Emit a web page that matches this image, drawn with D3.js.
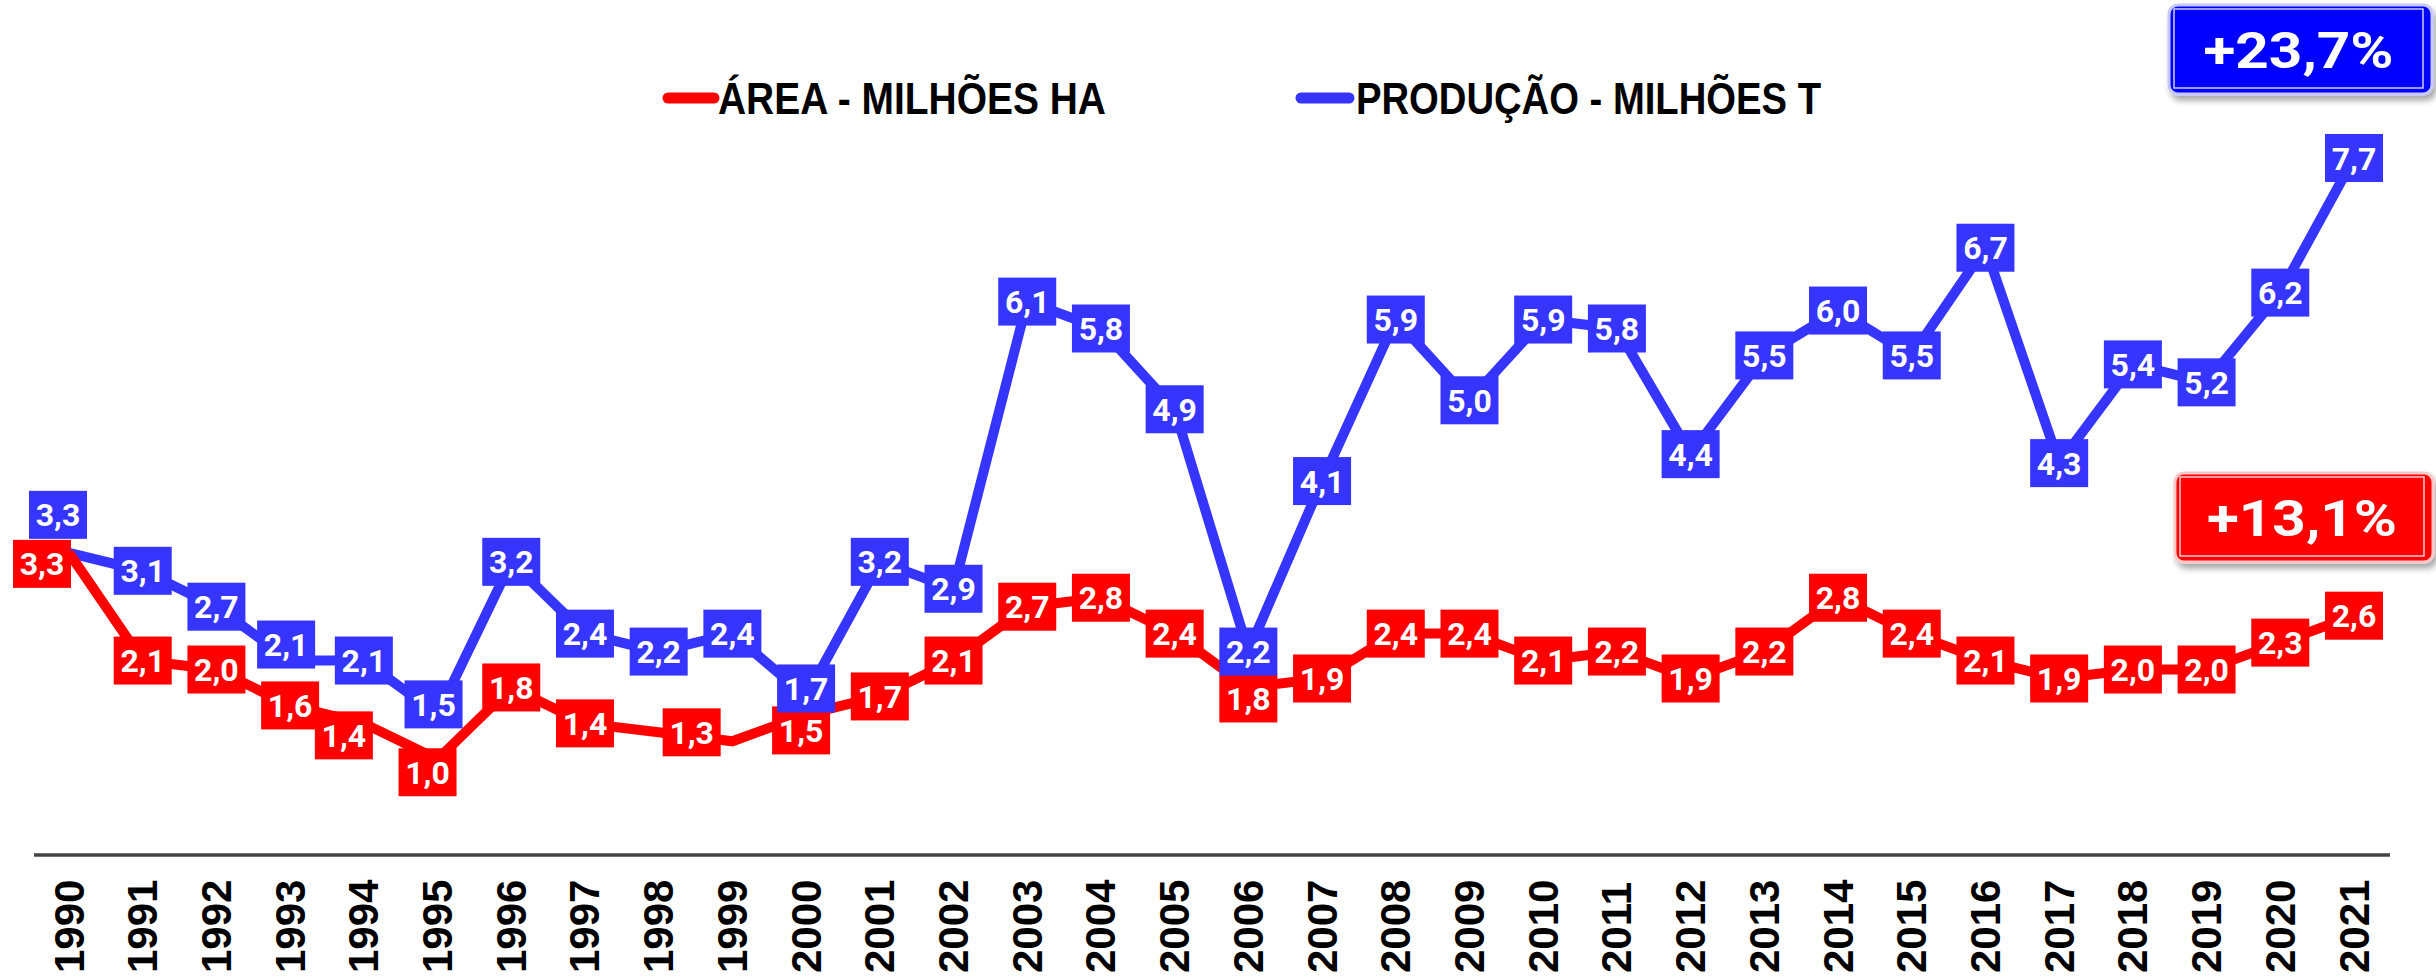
<!DOCTYPE html>
<html>
<head>
<meta charset="utf-8">
<script src="https://cdn.jsdelivr.net/npm/d3@7"></script>
<style>
  body { margin: 0; background: #fff; }
  svg { display: block; }
</style>
</head>
<body>
<svg id="chart"></svg>
<script>
// data
var years = d3.range(1990, 2022);
var producao = [3.3, 3.1, 2.7, 2.1, 2.1, 1.5, 3.2, 2.4, 2.2, 2.4, 1.7, 3.2, 2.9, 6.1, 5.8, 4.9,
                2.2, 4.1, 5.9, 5.0, 5.9, 5.8, 4.4, 5.5, 6.0, 5.5, 6.7, 4.3, 5.4, 5.2, 6.2, 7.7];
var area = [3.3, 2.1, 2.0, 1.6, 1.4, 1.0, 1.8, 1.4, 1.3, 1.2, 1.5, 1.7, 2.1, 2.7, 2.8, 2.4,
            1.8, 1.9, 2.4, 2.4, 2.1, 2.2, 1.9, 2.2, 2.8, 2.4, 2.1, 1.9, 2.0, 2.0, 2.3, 2.6];
var legendNames = ["ÁREA - MILHÕES HA", "PRODUÇÃO - MILHÕES T"];
var badges = ["+23,7%", "+13,1%"];

var width = 2436, height = 980;
var RED = "#ff0000", BLUE = "#3535ff";

var svg = d3.select("#chart").attr("width", width).attr("height", height);

var pt = d3.formatLocale({decimal: ",", thousands: ".", grouping: [3], currency: ["R$", ""]});
var fmt = pt.format(".1f");

var x = d3.scalePoint().domain(years).range([69, 2354]);
var y = d3.scaleLinear().domain([0, 7.7]).range([849, 158]);

// shadow for the percentage badges
var defs = svg.append("defs");
defs.append("filter").attr("id", "shadow")
  .attr("x", "-10%").attr("y", "-20%").attr("width", "130%").attr("height", "160%")
  .append("feDropShadow")
  .attr("dx", 3).attr("dy", 5).attr("stdDeviation", 3)
  .attr("flood-color", "#000").attr("flood-opacity", 0.35);

// x axis: plain line + rotated years
var xAxis = d3.axisBottom(x).tickSize(0).tickPadding(0);
var gx = svg.append("g").attr("transform", "translate(0,855)").call(xAxis);
gx.select(".domain").remove();
gx.append("line")
  .attr("x1", 34).attr("x2", 2390)
  .attr("stroke", "#444").attr("stroke-width", 3.5);
gx.selectAll(".tick text")
  .attr("transform", "translate(14,118) rotate(-90)")
  .attr("x", 0).attr("y", 0).attr("dy", 0)
  .attr("text-anchor", "start")
  .attr("fill", "#000")
  .style("font-family", "'Liberation Sans', Arial, sans-serif")
  .style("font-weight", "bold")
  .style("font-size", "42px");

var line = d3.line()
  .x(function(d) { return x(d.year); })
  .y(function(d) { return y(d.v); });

function rows(vals) {
  return vals.map(function(v, i) { return {year: years[i], v: v}; });
}

var series = [
  {name: "prod", rows: rows(producao), color: BLUE},
  {name: "area", rows: rows(area), color: RED}
];

series.forEach(function(s) {
  svg.append("path")
    .datum(s.rows)
    .attr("d", line)
    .attr("fill", "none")
    .attr("stroke", s.color)
    .attr("stroke-width", 10)
    .attr("stroke-linejoin", "miter");
});

// label tweaks where the original had them moved by hand
var nudge = {
  "area-1990": [-27, 11], "prod-1990": [-11, -38],
  "prod-1993": [-4, -16], "area-1994": [-20, 12],
  "prod-1995": [-4, -10], "area-1995": [-10, 13],
  "area-1998": [33, 0], "area-2000": [-5, 16], "prod-2000": [0, -8],
  "area-2006": [0, 11]
};
var hidden = {"area-1999": true};

function drawLabels(s) {
  var g = svg.append("g").attr("class", "labels-" + s.name);
  var lab = g.selectAll("g")
    .data(s.rows.filter(function(d) { return !hidden[s.name + "-" + d.year]; }))
    .enter().append("g")
    .attr("transform", function(d) {
      var n = nudge[s.name + "-" + d.year] || [0, 0];
      return "translate(" + (x(d.year) + n[0]) + "," + (y(d.v) + n[1]) + ")";
    });
  lab.append("rect")
    .attr("x", -29).attr("y", -24)
    .attr("width", 58).attr("height", 48)
    .attr("fill", s.color);
  lab.append("text")
    .attr("text-anchor", "middle")
    .attr("dy", "0.36em")
    .attr("fill", "#fff")
    .style("font-family", "Roboto, sans-serif")
    .style("font-weight", "bold")
    .style("font-size", "32px")
    .text(function(d) { return fmt(d.v); });
}
drawLabels(series[1]);
drawLabels(series[0]);

// legend (condensed bold, squeezed to the original width)
var legend = [
  {name: legendNames[0], color: RED, x1: 668, x2: 714, tx: 718, len: 388},
  {name: legendNames[1], color: BLUE, x1: 1301, x2: 1349, tx: 1356, len: 465}
];
var lg = svg.append("g").attr("class", "legend")
  .selectAll("g").data(legend).enter().append("g");
lg.append("line")
  .attr("x1", function(d) { return d.x1; }).attr("x2", function(d) { return d.x2; })
  .attr("y1", 98).attr("y2", 98)
  .attr("stroke", function(d) { return d.color; })
  .attr("stroke-width", 11)
  .attr("stroke-linecap", "round");
lg.append("text")
  .attr("x", function(d) { return d.tx; })
  .attr("y", 114)
  .attr("textLength", function(d) { return d.len; })
  .attr("lengthAdjust", "spacingAndGlyphs")
  .attr("fill", "#000")
  .style("font-family", "'Liberation Sans', Arial, sans-serif")
  .style("font-weight", "bold")
  .style("font-size", "45px")
  .text(function(d) { return d.name; });

// percentage badges
var badgeBoxes = [
  {text: badges[0], color: "#0000ff", edge: "#c8c8ff", x: 2169, y: 5, w: 263, h: 89},
  {text: badges[1], color: "#ff0000", edge: "#ffc8c8", x: 2175, y: 473, w: 258, h: 89}
];
var bg = svg.append("g").selectAll("g").data(badgeBoxes).enter().append("g")
  .attr("transform", function(d) { return "translate(" + d.x + "," + d.y + ")"; });
bg.append("rect")
  .attr("width", function(d) { return d.w; })
  .attr("height", function(d) { return d.h; })
  .attr("rx", 9)
  .attr("fill", function(d) { return d.color; })
  .attr("stroke", function(d) { return d.edge; })
  .attr("stroke-width", 3)
  .attr("filter", "url(#shadow)");
bg.append("rect")
  .attr("x", 5).attr("y", 4)
  .attr("width", function(d) { return d.w - 14; })
  .attr("height", function(d) { return d.h - 10; })
  .attr("fill", "none")
  .attr("stroke", "#fff")
  .attr("stroke-opacity", 0.8)
  .attr("stroke-width", 1.5);
bg.append("text")
  .attr("x", function(d) { return d.w / 2 - 2; })
  .attr("y", function(d) { return d.h / 2 + 18; })
  .attr("text-anchor", "middle")
  .attr("textLength", 190)
  .attr("lengthAdjust", "spacingAndGlyphs")
  .attr("fill", "#fff")
  .style("font-family", "Roboto, sans-serif")
  .style("font-weight", "bold")
  .style("font-size", "50px")
  .text(function(d) { return d.text; });
</script>
</body>
</html>
